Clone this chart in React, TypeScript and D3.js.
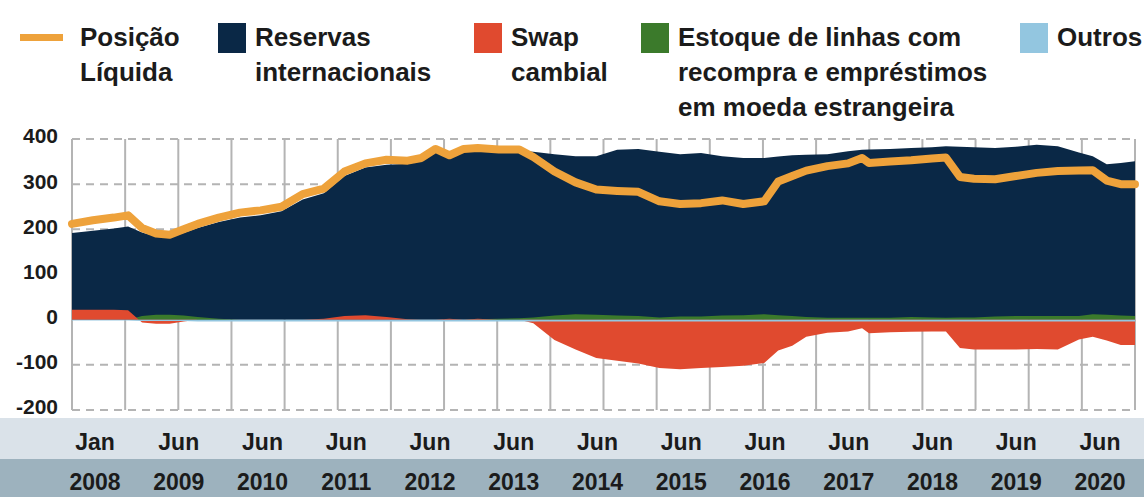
import React, { useRef, useEffect } from 'react';
import * as d3 from 'd3';

// US$ bilhões, leitura aproximada do gráfico
const dates = [
  '2008-01', '2008-04', '2008-07', '2008-09', '2008-11', '2009-01', '2009-03', '2009-05', '2009-07', '2009-10',
  '2010-01', '2010-04', '2010-07', '2010-10', '2011-01', '2011-04', '2011-07', '2011-10',
  '2012-01', '2012-03', '2012-05', '2012-07', '2012-09', '2012-11', '2013-02', '2013-05', '2013-07', '2013-10',
  '2014-01', '2014-04', '2014-07', '2014-10', '2015-01', '2015-04', '2015-07', '2015-10',
  '2016-01', '2016-04', '2016-06', '2016-08', '2016-10', '2017-01', '2017-04', '2017-06', '2017-07', '2017-10',
  '2018-01', '2018-04', '2018-06', '2018-08', '2018-10', '2019-01', '2019-04', '2019-07', '2019-10',
  '2020-01', '2020-03', '2020-05', '2020-07', '2020-09',
];

const reservas = [
  192, 197, 202, 206, 193, 184, 183, 192, 203, 216,
  226, 231, 240, 266, 280, 318, 337, 343,
  345, 352, 372, 372, 374, 376, 375, 374, 372, 366,
  362, 362, 376, 378, 372, 366, 369, 362,
  358, 358, 361, 364, 365, 366, 373, 376, 377, 378,
  380, 382, 384, 383, 382, 380, 383, 387, 384,
  370, 362, 344, 347, 351,
];

const swapCambial = [
  22, 22, 22, 21, -6, -9, -9, -4, 0, 0,
  0, 0, 0, 0, 2, 8, 10, 6,
  1, 0, 0, 2, 0, 2, 0, 0, -8, -45,
  -66, -85, -91, -97, -107, -110, -107, -105,
  -102, -96, -68, -58, -38, -29, -26, -19, -30, -28,
  -27, -26, -26, -63, -66, -66, -66, -65, -66,
  -44, -38, -46, -56, -56,
];

const linhas = [
  0, 0, 0, 0, 8, 11, 11, 9, 6, 2,
  0, 0, 0, 0, 0, 0, 0, 0,
  0, 0, 0, 0, 0, 1, 2, 3, 5, 9,
  12, 11, 9, 8, 5, 7, 7, 9,
  10, 12, 10, 8, 6, 4, 4, 4, 4, 4,
  6, 5, 4, 5, 5, 7, 8, 8, 8,
  8, 12, 11, 9, 8,
];

const outros = [
  -2, -2, -2, -2, -3, -3, -3, -3, -4, -4,
  -4, -4, -4, -4, -4, -4, -4, -4,
  -4, -4, -4, -4, -4, -4, -4, -4, -4, -4,
  -4, -4, -4, -4, -4, -4, -4, -4,
  -4, -4, -4, -4, -4, -4, -4, -4, -4, -4,
  -4, -4, -4, -4, -4, -4, -4, -4, -4,
  -4, -4, -4, -4, -4,
];

const posicaoLiquida = [
  212, 220, 226, 231, 203, 191, 188, 200, 212, 226,
  237, 242, 250, 278, 290, 328, 346, 354,
  352, 358, 378, 364, 378, 380, 377, 377, 360, 328,
  304, 288, 285, 283, 262, 256, 258, 264,
  256, 262, 306, 318, 330, 340, 346, 358, 347, 350,
  353, 357, 359, 316, 312, 311, 318, 325, 329,
  330, 331, 308, 300, 300,
];

const yTicks = [400, 300, 200, 100, 0, -100, -200];
const monthLabels = ['Jan', 'Jun', 'Jun', 'Jun', 'Jun', 'Jun', 'Jun', 'Jun', 'Jun', 'Jun', 'Jun', 'Jun', 'Jun'];
const yearLabels = ['2008', '2009', '2010', '2011', '2012', '2013', '2014', '2015', '2016', '2017', '2018', '2019', '2020'];

const legendItems = [
  { kind: 'line', color: '#eea23b', lines: ['Posição', 'Líquida'] },
  { kind: 'box', color: '#0a2846', lines: ['Reservas', 'internacionais'] },
  { kind: 'box', color: '#e04a2f', lines: ['Swap', 'cambial'] },
  { kind: 'box', color: '#3b7a2b', lines: ['Estoque de linhas com', 'recompra e empréstimos', 'em moeda estrangeira'] },
  { kind: 'box', color: '#93c6e0', lines: ['Outros'] },
];

const FONT = '"Liberation Sans", Arial, sans-serif';

const App = () => {
  const ref = useRef<SVGSVGElement | null>(null);
  const width = 1144;
  const height = 497;
  const plot = { left: 72, right: 1135, top: 139, bottom: 410 };

  useEffect(() => {
    if (!ref.current) {
      return;
    }
    const svg = d3.select(ref.current);
    svg.selectAll('*').remove();

    const parse = d3.timeParse('%Y-%m');
    const rows = dates.map((d, i) => ({
      date: parse(d) as Date,
      reservas: reservas[i],
      swap: swapCambial[i],
      linhas: linhas[i],
      outros: outros[i],
      liquida: posicaoLiquida[i],
    }));
    type Row = (typeof rows)[number];

    const x = d3
      .scaleTime()
      .domain(d3.extent(rows, (d) => d.date) as [Date, Date])
      .range([plot.left, plot.right]);

    const y = d3.scaleLinear().domain([-200, 400]).range([plot.bottom, plot.top]);

    // faixas do eixo x
    svg.append('rect').attr('x', 0).attr('y', 418).attr('width', width).attr('height', 41).attr('fill', '#dae2e9');
    svg.append('rect').attr('x', 0).attr('y', 459).attr('width', width).attr('height', 38).attr('fill', '#9db2be');

    // grade
    const gx = d3.scaleLinear().domain([0, 20]).range([plot.left, plot.right]);
    svg
      .append('g')
      .selectAll('line')
      .data(d3.range(21))
      .join('line')
      .attr('x1', (d) => gx(d))
      .attr('x2', (d) => gx(d))
      .attr('y1', plot.top)
      .attr('y2', plot.bottom)
      .attr('stroke', '#b4b4b4')
      .attr('stroke-width', 2);

    svg
      .append('g')
      .selectAll('line')
      .data(yTicks.filter((d) => d !== 0))
      .join('line')
      .attr('x1', plot.left)
      .attr('x2', plot.right)
      .attr('y1', (d) => y(d))
      .attr('y2', (d) => y(d))
      .attr('stroke', '#b4b4b4')
      .attr('stroke-width', 2)
      .attr('stroke-dasharray', '8 6');

    const area = (key: keyof Row) =>
      d3
        .area<Row>()
        .x((d) => x(d.date))
        .y0(y(0))
        .y1((d) => y(d[key] as number));

    const layers: [keyof Row, string][] = [
      ['reservas', '#0a2846'],
      ['linhas', '#3b7a2b'],
      ['swap', '#e04a2f'],
      ['outros', '#93c6e0'],
    ];
    layers.forEach(([key, color]) => {
      svg.append('path').datum(rows).attr('fill', color).attr('d', area(key));
    });

    const line = d3
      .line<Row>()
      .x((d) => x(d.date))
      .y((d) => y(d.liquida));

    svg
      .append('path')
      .datum(rows)
      .attr('fill', 'none')
      .attr('stroke', '#eea23b')
      .attr('stroke-width', 8)
      .attr('stroke-linejoin', 'round')
      .attr('stroke-linecap', 'round')
      .attr('d', line);

    // rótulos do eixo y
    svg
      .append('g')
      .selectAll('text')
      .data(yTicks)
      .join('text')
      .attr('x', 58)
      .attr('y', (d) => y(d) - 3)
      .attr('dy', '0.35em')
      .attr('text-anchor', 'end')
      .attr('font-family', FONT)
      .attr('font-weight', 'bold')
      .attr('font-size', 21)
      .attr('fill', '#1b1b1b')
      .text((d) => d);

    // rótulos do eixo x
    const lx = d3.scalePoint<string>().domain(yearLabels).range([95, 1100]);
    const xl = svg
      .append('g')
      .attr('font-family', FONT)
      .attr('font-weight', 'bold')
      .attr('font-size', 23)
      .attr('fill', '#1b1b1b')
      .attr('text-anchor', 'middle');
    xl.selectAll('.m')
      .data(yearLabels)
      .join('text')
      .attr('class', 'm')
      .attr('x', (d) => lx(d) ?? 0)
      .attr('y', 450)
      .text((d, i) => monthLabels[i]);
    xl.selectAll('.yr')
      .data(yearLabels)
      .join('text')
      .attr('class', 'yr')
      .attr('x', (d) => lx(d) ?? 0)
      .attr('y', 490)
      .text((d) => d);

    // legenda
    const legendX = [20, 218, 474, 641, 1020];
    const lg = svg
      .append('g')
      .attr('font-family', FONT)
      .attr('font-weight', 'bold')
      .attr('font-size', 26)
      .attr('fill', '#1b1b1b');
    legendItems.forEach((item, i) => {
      const g = lg.append('g').attr('transform', `translate(${legendX[i]},0)`);
      let tx = 37;
      if (item.kind === 'line') {
        g.append('rect').attr('x', 0).attr('y', 34).attr('width', 43).attr('height', 7).attr('fill', item.color);
        tx = 60;
      } else {
        g.append('rect').attr('x', 0).attr('y', 23).attr('width', 28).attr('height', 30).attr('fill', item.color);
      }
      g.selectAll('text')
        .data(item.lines)
        .join('text')
        .attr('x', tx)
        .attr('y', (d, j) => 46 + j * 35)
        .text((d) => d);
    });
  }, []);

  return (
    <div style={{ position: 'absolute', left: 0, top: 0 }}>
      <svg ref={ref} width={width} height={height} style={{ display: 'block', background: '#fff' }} />
    </div>
  );
};

export default App;
